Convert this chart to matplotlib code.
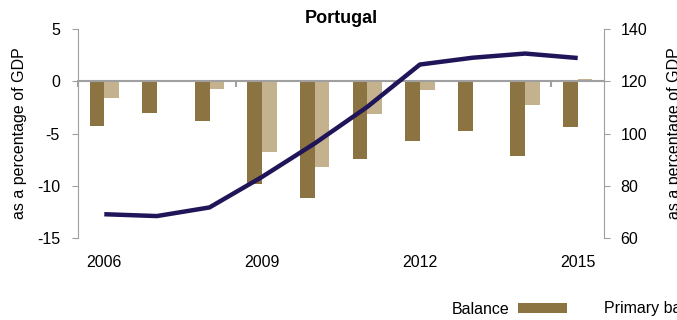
import matplotlib.pyplot as plt
import numpy as np

plt.rcParams['font.family'] = ['Liberation Sans', 'DejaVu Sans']

years = ['2006', '2007', '2008', '2009', '2010', '2011', '2012', '2013', '2014', '2015']
balance = [-4.3, -3.0, -3.8, -9.8, -11.2, -7.4, -5.7, -4.8, -7.2, -4.4]
primary = [-1.6, 0.0, -0.7, -6.8, -8.2, -3.1, -0.8, 0.0, -2.3, 0.2]
debt = [69.1, 68.4, 71.7, 83.4, 96.2, 110.2, 126.4, 129.0, 130.6, 128.9]

c_bal = '#8c7442'
c_prim = '#c4b28f'
c_debt = '#1f1558'
c_axis = '#a0a0a0'
fs = 11.5

fig = plt.figure(figsize=(6.77, 3.2), dpi=100)
ax = fig.add_axes([78 / 677, 1 - 238 / 320, 526 / 677, 209 / 320])

x = np.arange(len(years))
w = 0.28
b1 = ax.bar(x - w / 2, balance, w, color=c_bal, label='Balance')
b2 = ax.bar(x + w / 2, primary, w, color=c_prim, label='Primary balance')

ax.set_xlim(-0.5, len(years) - 0.5)
ax.set_ylim(-15, 5)
ax.set_yticks([-15, -10, -5, 0, 5])
ax.set_yticklabels(['-15', '-10', '-5', '0', '5'])

# category axis sits on the zero line, ticks between every third group
ax.spines['bottom'].set_position(('data', 0))
ax.spines['bottom'].set_color(c_axis)
ax.spines['bottom'].set_linewidth(1.5)
ax.set_xticks([-0.5, 2.5, 5.5, 8.5])
ax.set_xticklabels([])
ax.tick_params(axis='x', length=4, width=1.5, color=c_axis, direction='out')
for s in ['top', 'right']:
    ax.spines[s].set_visible(False)
ax.spines['left'].set_color(c_axis)
ax.tick_params(axis='y', length=4, color=c_axis, pad=9, labelsize=fs)
ax.set_ylabel('as a percentage of GDP', fontsize=fs, labelpad=7)

sec = ax.secondary_xaxis('bottom')
sec.set_xticks(x[::3])
sec.set_xticklabels(years[::3])
sec.tick_params(length=0, pad=12, labelsize=fs)
sec.spines['bottom'].set_visible(False)

ax2 = ax.twinx()
ax2.plot(x, debt, color=c_debt, linewidth=3.2, solid_capstyle='butt')
ax2.set_ylim(60, 140)
ax2.set_yticks([60, 80, 100, 120, 140])
for s in ['top', 'left', 'bottom']:
    ax2.spines[s].set_visible(False)
ax2.spines['right'].set_color(c_axis)
ax2.tick_params(axis='y', length=4, color=c_axis, pad=8, labelsize=fs)
ax2.set_ylabel('as a percentage of GDP', fontsize=fs, labelpad=14)

ax.set_title('Portugal', fontsize=13, fontweight='bold', pad=4)

fig.legend(handles=[b1, b2], loc='center left',
           bbox_to_anchor=(452 / 677, 1 - 309 / 320), ncol=2, frameon=False,
           markerfirst=False, fontsize=fs, borderpad=0, borderaxespad=0,
           handlelength=3.1, handleheight=0.55, handletextpad=0.5,
           columnspacing=2.3)

fig.savefig('out.png', dpi=100)
